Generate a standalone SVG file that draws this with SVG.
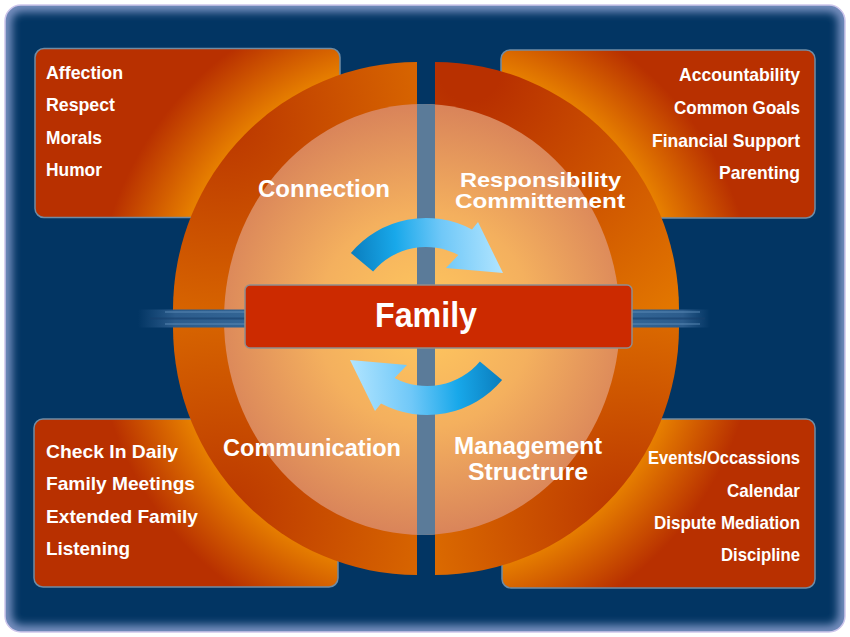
<svg xmlns="http://www.w3.org/2000/svg" width="850" height="637" viewBox="0 0 850 637">
<style>
.box{stroke:#6f8ca5;stroke-width:1.5;fill:url(#boxGrad)}
.item{font-family:"Liberation Sans",Arial,sans-serif;font-weight:bold;font-size:19px;fill:#fff}
.r{text-anchor:end}
.lbl{font-family:"Liberation Sans",Arial,sans-serif;font-weight:bold;font-size:24px;fill:#fff;text-anchor:middle}
.lbl2{font-size:21px}
</style>
<defs>
<filter id="blur" x="-5%" y="-5%" width="110%" height="110%"><feGaussianBlur stdDeviation="4"/></filter>
<clipPath id="frameClip"><rect x="5" y="5" width="840" height="627" rx="16"/></clipPath>
<clipPath id="innerClip"><ellipse cx="422" cy="319.5" rx="198" ry="215.5"/></clipPath>
<radialGradient id="boxGrad" gradientUnits="userSpaceOnUse" cx="426" cy="318" r="360">
<stop offset="0.66" stop-color="#f39400"/>
<stop offset="0.92" stop-color="#b83000"/>
</radialGradient>
<radialGradient id="ringTL" gradientUnits="userSpaceOnUse" cx="225" cy="120" r="230">
<stop offset="0" stop-color="#ba3600"/><stop offset="1" stop-color="#dc6c00"/>
</radialGradient>
<radialGradient id="ringTR" gradientUnits="userSpaceOnUse" cx="470" cy="70" r="310">
<stop offset="0.1" stop-color="#b83000"/><stop offset="1" stop-color="#e27600"/>
</radialGradient>
<radialGradient id="ringBL" gradientUnits="userSpaceOnUse" cx="225" cy="515" r="230">
<stop offset="0" stop-color="#ba3600"/><stop offset="1" stop-color="#dc6c00"/>
</radialGradient>
<radialGradient id="ringBR" gradientUnits="userSpaceOnUse" cx="627" cy="515" r="230">
<stop offset="0" stop-color="#ba3600"/><stop offset="1" stop-color="#e07200"/>
</radialGradient>
<radialGradient id="innerGrad" gradientUnits="userSpaceOnUse" cx="425" cy="320" r="215">
<stop offset="0" stop-color="#ffc85e"/>
<stop offset="0.5" stop-color="#f4b05e"/>
<stop offset="1" stop-color="#d9845a"/>
</radialGradient>
<linearGradient id="bandL" x1="0" y1="0" x2="1" y2="0">
<stop offset="0" stop-color="#2c5c8c" stop-opacity="0"/>
<stop offset="0.35" stop-color="#2c5c8c"/>
<stop offset="1" stop-color="#326494"/>
</linearGradient>
<linearGradient id="bandR" x1="0" y1="0" x2="1" y2="0">
<stop offset="0" stop-color="#326494"/>
<stop offset="0.65" stop-color="#2c5c8c"/>
<stop offset="1" stop-color="#2c5c8c" stop-opacity="0"/>
</linearGradient>
<linearGradient id="arrowGrad" gradientUnits="userSpaceOnUse" x1="350" y1="260" x2="505" y2="250">
<stop offset="0" stop-color="#0a7cbc"/>
<stop offset="0.3" stop-color="#18a8ea"/>
<stop offset="0.6" stop-color="#70c8f8"/>
<stop offset="1" stop-color="#b4e6ff"/>
</linearGradient>
</defs>

<g id="frame">
<rect x="5" y="5" width="840" height="627" rx="16" fill="#023563"/>
<rect x="5" y="5" width="840" height="627" rx="16" fill="none" stroke="#7890c0" stroke-width="14" filter="url(#blur)" clip-path="url(#frameClip)"/>
<rect x="5" y="5" width="840" height="627" rx="16" fill="none" stroke="#cec6ec" stroke-width="1.5"/>
</g>

<g id="box-connection">
<rect class="box" x="35" y="48.5" width="305" height="169" rx="9"/>
<text class="item" x="46" y="79" textLength="77" lengthAdjust="spacingAndGlyphs">Affection</text>
<text class="item" x="46" y="111" textLength="69" lengthAdjust="spacingAndGlyphs">Respect</text>
<text class="item" x="46" y="143.5" textLength="56" lengthAdjust="spacingAndGlyphs">Morals</text>
<text class="item" x="46" y="176" textLength="56" lengthAdjust="spacingAndGlyphs">Humor</text>
</g>
<g id="box-responsibility">
<rect class="box" x="501" y="50" width="314" height="168" rx="9"/>
<text class="item r" x="800" y="81" textLength="121" lengthAdjust="spacingAndGlyphs">Accountability</text>
<text class="item r" x="800" y="114" textLength="126" lengthAdjust="spacingAndGlyphs">Common Goals</text>
<text class="item r" x="800" y="146.5" textLength="148" lengthAdjust="spacingAndGlyphs">Financial Support</text>
<text class="item r" x="800" y="179" textLength="81" lengthAdjust="spacingAndGlyphs">Parenting</text>
</g>
<g id="box-communication">
<rect class="box" x="34" y="419" width="304" height="168" rx="9"/>
<text class="item" x="46" y="458" textLength="132" lengthAdjust="spacingAndGlyphs">Check In Daily</text>
<text class="item" x="46" y="490" textLength="149" lengthAdjust="spacingAndGlyphs">Family Meetings</text>
<text class="item" x="46" y="522.5" textLength="152" lengthAdjust="spacingAndGlyphs">Extended Family</text>
<text class="item" x="46" y="555" textLength="84" lengthAdjust="spacingAndGlyphs">Listening</text>
</g>
<g id="box-management">
<rect class="box" x="502" y="419" width="313" height="169" rx="9"/>
<text class="item r" x="800" y="463.5" textLength="152" lengthAdjust="spacingAndGlyphs">Events/Occassions</text>
<text class="item r" x="800" y="497" textLength="73" lengthAdjust="spacingAndGlyphs">Calendar</text>
<text class="item r" x="800" y="528.7" textLength="146" lengthAdjust="spacingAndGlyphs">Dispute Mediation</text>
<text class="item r" x="800" y="561" textLength="79" lengthAdjust="spacingAndGlyphs">Discipline</text>
</g>

<g id="wheel">
<path d="M417 310 L173 310 A244 248 0 0 1 417 62 Z" fill="url(#ringTL)"/>
<path d="M435 310 L435 62 A244 248 0 0 1 679 310 Z" fill="url(#ringTR)"/>
<path d="M435 327 L679 327 A244 248 0 0 1 435 575 Z" fill="url(#ringBR)"/>
<path d="M417 327 L417 575 A244 248 0 0 1 173 327 Z" fill="url(#ringBL)"/>
<ellipse cx="422" cy="319.5" rx="198" ry="215.5" fill="url(#innerGrad)"/>
<rect x="417" y="0" width="18" height="637" fill="#5b7b99" clip-path="url(#innerClip)"/>
<rect x="138" y="309.5" width="107" height="18" fill="url(#bandL)"/>
<rect x="632" y="309.5" width="78" height="18" fill="url(#bandR)"/>
<g stroke="#6392bc" stroke-width="1.5" opacity="0.55">
<line x1="165" y1="312" x2="245" y2="312"/>
<line x1="632" y1="312" x2="700" y2="312"/>
<line x1="165" y1="324" x2="245" y2="324"/>
<line x1="632" y1="324" x2="700" y2="324"/>
</g>
<g stroke="#163f6c" stroke-width="2" opacity="0.6">
<line x1="150" y1="318.5" x2="245" y2="318.5"/>
<line x1="632" y1="318.5" x2="705" y2="318.5"/>
</g>
</g>

<g id="connectors">
<path id="arrowTop" d="M350.9 253 A98 98 0 0 1 472 229.5 L478 222 L503 273 L446 268 L458.4 255.1 A69 69 0 0 0 373.1 271.6 Z" fill="url(#arrowGrad)"/>
<path id="arrowBottom" d="M350.9 253 A98 98 0 0 1 472 229.5 L478 222 L503 273 L446 268 L458.4 255.1 A69 69 0 0 0 373.1 271.6 Z" fill="url(#arrowGrad)" transform="rotate(180 426.5 316.5)"/>
</g>

<g id="node-family">
<rect x="245" y="285" width="387" height="63" rx="5" fill="#cc2a00" stroke="#8e8e8e" stroke-width="1.5"/>
<text x="426" y="327" font-family="Liberation Sans, Arial, sans-serif" font-weight="bold" font-size="35" fill="#fff" text-anchor="middle" textLength="102" lengthAdjust="spacingAndGlyphs">Family</text>
</g>

<g id="label-connection"><text class="lbl" x="324" y="197">Connection</text></g>
<g id="label-responsibility">
<text class="lbl lbl2" x="540.5" y="187" textLength="161" lengthAdjust="spacingAndGlyphs">Responsibility</text>
<text class="lbl lbl2" x="540" y="208" textLength="170" lengthAdjust="spacingAndGlyphs">Committement</text>
</g>
<g id="label-communication"><text class="lbl" x="312" y="456" textLength="178" lengthAdjust="spacingAndGlyphs">Communication</text></g>
<g id="label-management">
<text class="lbl" x="528" y="454" textLength="148" lengthAdjust="spacingAndGlyphs">Management</text>
<text class="lbl" x="528" y="480" textLength="120" lengthAdjust="spacingAndGlyphs">Structrure</text>
</g>
</svg>
